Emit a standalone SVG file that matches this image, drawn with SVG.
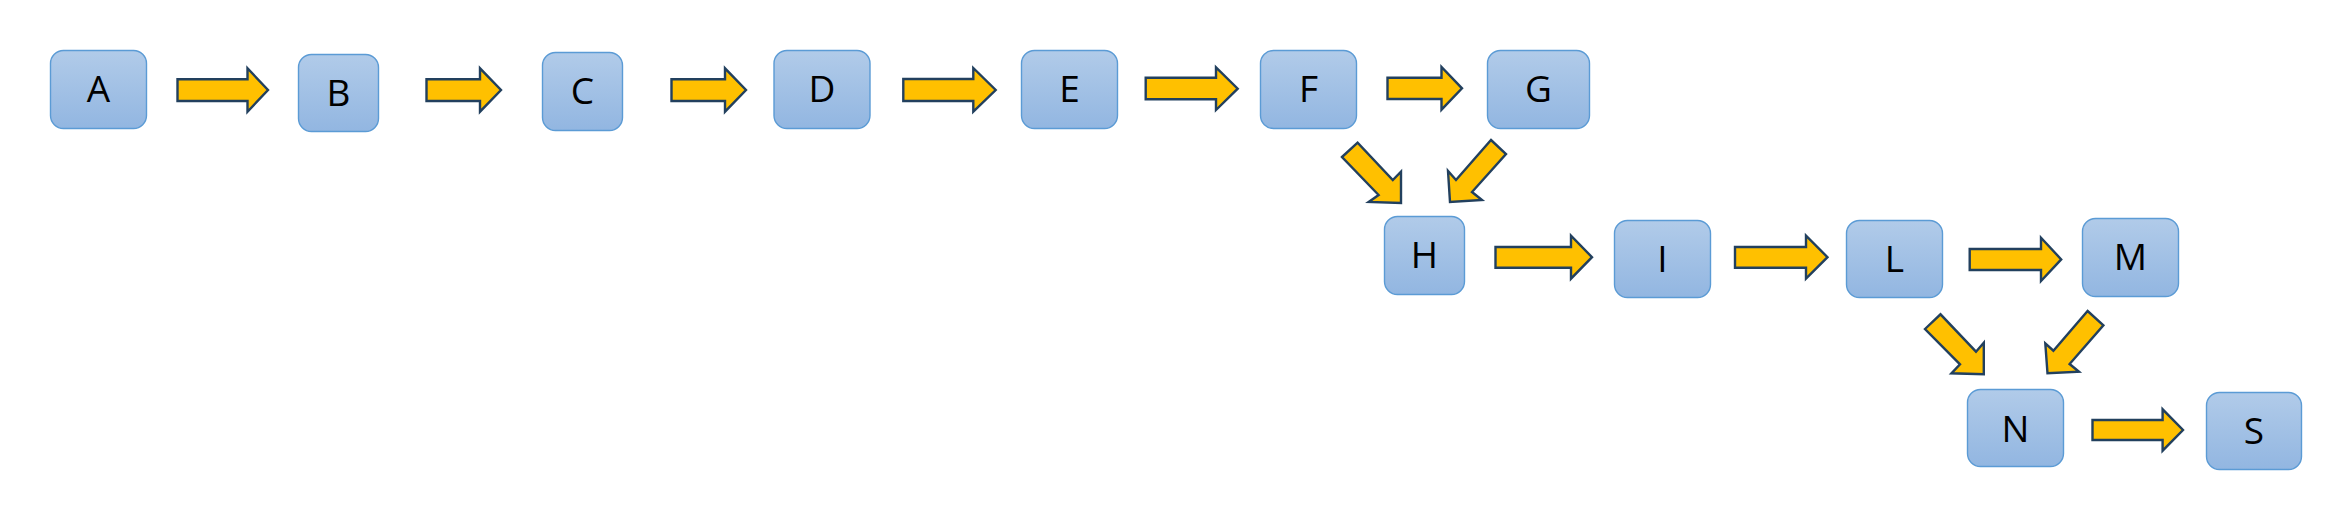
<svg xmlns="http://www.w3.org/2000/svg" width="2352" height="520" viewBox="0 0 2352 520">
<defs>
<linearGradient id="boxFill" x1="0" y1="0" x2="0" y2="1">
<stop offset="0" stop-color="#b1cbe9"/>
<stop offset="1" stop-color="#92b6e1"/>
</linearGradient>
</defs>
<style>
.box{fill:url(#boxFill);stroke:#5b9bd5;stroke-width:1.4}
.lbl{font-family:"Open Sans","Liberation Sans",sans-serif;font-size:37px;fill:#000;text-anchor:middle}
.arr{fill:#ffc000;stroke:#22405e;stroke-width:2.4;stroke-linejoin:miter}
</style>
<rect width="2352" height="520" fill="#ffffff"/>
<g id="connectors">
<polygon class="arr" points="177.5,79.3 247.5,79.3 247.5,68.3 268,90 247.5,111.7 247.5,101 177.5,101"/>
<polygon class="arr" points="426.5,79.3 480,79.3 480,68.3 501,90 480,111.7 480,101 426.5,101"/>
<polygon class="arr" points="671.5,79.3 725,79.3 725,68.3 746,90 725,111.7 725,101 671.5,101"/>
<polygon class="arr" points="903.3,79 973.3,79 973.3,68 995.7,90 973.3,111.7 973.3,101 903.3,101"/>
<polygon class="arr" points="1145.7,77.7 1216,77.7 1216,67.3 1237.7,88.7 1216,110 1216,99.3 1145.7,99.3"/>
<polygon class="arr" points="1387.5,77.7 1441.5,77.7 1441.5,67 1462,88.3 1441.5,109.7 1441.5,99 1387.5,99"/>
<polygon class="arr" points="1342,157 1357.6,142.7 1392.8,180 1401,171.7 1401,203 1368.7,202 1378.6,195"/>
<polygon class="arr" points="1491,140 1506,154 1472,192 1482,200 1450,202 1448,171 1456,180"/>
<polygon class="arr" points="1495.5,247 1571,247 1571,235.7 1592,257.2 1571,278.7 1571,267.7 1495.5,267.7"/>
<polygon class="arr" points="1735,247 1806,247 1806,235.7 1827.5,257.2 1806,278.7 1806,267.7 1735,267.7"/>
<polygon class="arr" points="1969.7,249 2041,249 2041,237.7 2061.2,259.4 2041,281 2041,270 1969.7,270"/>
<polygon class="arr" points="1925,329 1940.5,314.3 1976,351.7 1983.8,342.7 1983.8,374.3 1951.4,373.3 1960,364.3"/>
<polygon class="arr" points="2087.6,311 2103.4,325.3 2069.6,364 2079,371.7 2047.5,373.3 2045.3,343.3 2053.4,350.7"/>
<polygon class="arr" points="2092.5,420 2162.6,420 2162.6,409.3 2183,430 2162.6,450.7 2162.6,440 2092.5,440"/>
</g>
<g id="node-A"><rect class="box" x="50.5" y="50.5" width="96" height="78" rx="13"/><text class="lbl" x="98.5" y="101.7">A</text></g>
<g id="node-B"><rect class="box" x="298.5" y="54.5" width="80" height="77" rx="13"/><text class="lbl" x="338.5" y="106">B</text></g>
<g id="node-C"><rect class="box" x="542.5" y="52.5" width="80" height="78" rx="13"/><text class="lbl" x="582.5" y="104">C</text></g>
<g id="node-D"><rect class="box" x="774" y="50.5" width="96" height="78" rx="13"/><text class="lbl" x="822" y="101.7">D</text></g>
<g id="node-E"><rect class="box" x="1021.5" y="50.5" width="96" height="78" rx="13"/><text class="lbl" x="1069.5" y="101.7">E</text></g>
<g id="node-F"><rect class="box" x="1260.5" y="50.5" width="96" height="78" rx="13"/><text class="lbl" x="1308.5" y="101.7">F</text></g>
<g id="node-G"><rect class="box" x="1487.5" y="50.5" width="102" height="78" rx="13"/><text class="lbl" x="1538.5" y="101.7">G</text></g>
<g id="node-H"><rect class="box" x="1384.5" y="216.5" width="80" height="78" rx="13"/><text class="lbl" x="1424.5" y="267.7">H</text></g>
<g id="node-I"><rect class="box" x="1614.5" y="220.5" width="96" height="77" rx="13"/><text class="lbl" x="1662.5" y="271.7">I</text></g>
<g id="node-L"><rect class="box" x="1846.5" y="220.5" width="96" height="77" rx="13"/><text class="lbl" x="1894.5" y="271.7">L</text></g>
<g id="node-M"><rect class="box" x="2082.5" y="218.5" width="96" height="78" rx="13"/><text class="lbl" x="2130.5" y="270">M</text></g>
<g id="node-N"><rect class="box" x="1967.5" y="389.5" width="96" height="77" rx="13"/><text class="lbl" x="2015.5" y="441.7">N</text></g>
<g id="node-S"><rect class="box" x="2206.5" y="392.5" width="95" height="77" rx="13"/><text class="lbl" x="2254" y="444">S</text></g>
</svg>
